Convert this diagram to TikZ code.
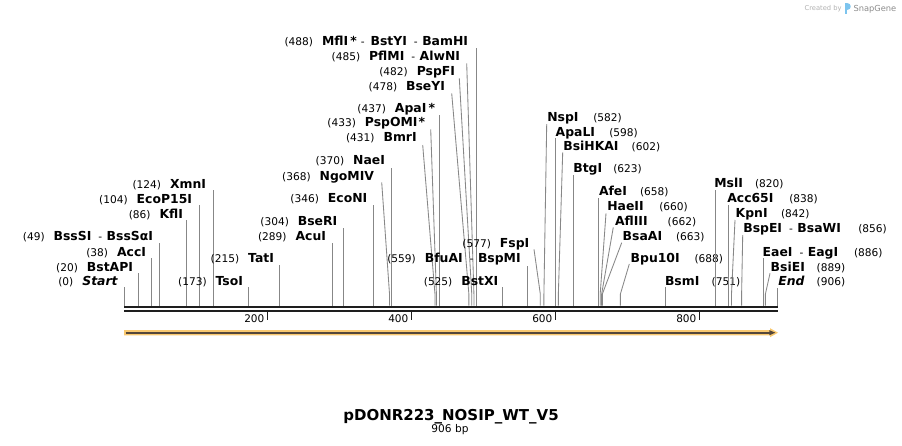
\documentclass[tikz,border=0pt]{standalone}
\usepackage{fontspec}
\setmainfont{DejaVu Sans}
\definecolor{sitegray}{HTML}{878787}
\definecolor{bbblack}{HTML}{1E1E1E}
\definecolor{orangeF}{HTML}{F9C970}
\definecolor{darkA}{HTML}{54473A}
\definecolor{sgblue}{HTML}{7CC4EE}
\newcommand\nmf{\fontsize{10.6}{12}\selectfont\mdseries\upshape}
\newcommand\bff{\fontsize{12.4}{14}\selectfont\bfseries}
\newcommand\dsh{\hspace{7pt}{\nmf -}\hspace{4.5pt}}
\newcommand\sx[1]{{124+0.7215*#1}}
% left label, vertical line: id, text right x, baseline y, name, bp, line start y
\newcommand\LV[6]{%
  \node[lab, anchor=base east] (#1) at (#2,#3) {{\nmf(#5)}\hspace{9pt}{\bff #4}};
  \coordinate (#1-s) at (\sx{#5},#6);
  \coordinate (#1-b) at (\sx{#5},305.6);
  \draw[site] (#1-s) -- (#1-b);}
% left label, slanted line: id, text right x, baseline y, name, bp, start x, start y
\newcommand\LS[7]{%
  \node[lab, anchor=base east] (#1) at (#2,#3) {{\nmf(#5)}\hspace{9pt}{\bff #4}};
  \coordinate (#1-s) at (#6,#7);
  \coordinate (#1-k) at (\sx{#5},294);
  \coordinate (#1-b) at (\sx{#5},305.6);
  \draw[site] (#1-s) -- (#1-k) -- (#1-b);}
% right label, vertical line: id, text left x, baseline y, name, number x, bp, start y
\newcommand\RV[7]{%
  \node[lab, anchor=base west] (#1) at (#2,#3) {\bff #4};
  \node[lab, anchor=base west] (#1-n) at (#5,#3) {\nmf(#6)};
  \coordinate (#1-s) at (\sx{#6},#7);
  \coordinate (#1-b) at (\sx{#6},305.6);
  \draw[site] (#1-s) -- (#1-b);}
% right label, slanted line: id, text left x, baseline y, name, number x, bp, start x, start y
\newcommand\RS[8]{%
  \node[lab, anchor=base west] (#1) at (#2,#3) {\bff #4};
  \node[lab, anchor=base west] (#1-n) at (#5,#3) {\nmf(#6)};
  \coordinate (#1-s) at (#7,#8);
  \coordinate (#1-k) at (\sx{#6},294);
  \coordinate (#1-b) at (\sx{#6},305.6);
  \draw[site] (#1-s) -- (#1-k) -- (#1-b);}
\begin{document}
\begin{tikzpicture}[x=1pt,y=-1pt,
  lab/.style={inner sep=0pt, outer sep=0pt, text=black},
  site/.style={draw=sitegray, line width=0.85pt},
  bbline/.style={draw=bbblack},
  ticklab/.style={inner sep=0pt, font=\fontsize{10.5}{12}\selectfont, anchor=base east}]
\useasboundingbox[fill=white] (0,0) rectangle (902,445);

% ---- left labels
\LV{start}{118}{285.7}{\textit{Start}}{0}{287}
\LV{bstapi}{133}{271}{BstAPI}{20}{273}
\LV{acci}{146}{256}{AccI}{38}{258}
\LV{bsssi}{153}{240.7}{BssSI\dsh BssSαI}{49}{243}
\LV{kfli}{183}{218.3}{KflI}{86}{220}
\LV{ecop}{192}{203.3}{EcoP15I}{104}{205}
\LV{xmni}{206}{188.3}{XmnI}{124}{190}
\LV{tsoi}{243}{285.7}{TsoI}{173}{287}
\LV{tati}{274}{262.5}{TatI}{215}{265}
\LV{acui}{326}{240.7}{AcuI}{289}{243.3}
\LV{bseri}{337.3}{225}{BseRI}{304}{228}
\LV{econi}{367.3}{202.3}{EcoNI}{346}{205}
\LS{ngomiv}{374}{180}{NgoMIV}{368}{381.7}{182.3}
\LV{naei}{385}{164.5}{NaeI}{370}{168}
\LS{bmri}{416.7}{141.7}{BmrI}{431}{422.7}{145}
\LS{pspomi}{425}{126.7}{PspOMI\kern1pt*}{433}{430.7}{129.3}
\LV{apai}{435}{112.7}{ApaI\,*}{437}{115}
\LS{bseyi}{445}{90.7}{BseYI}{478}{451.7}{93.3}
\LS{pspfi}{455}{75.7}{PspFI}{482}{459.3}{78.3}
\LS{pflmi}{460}{60.7}{PflMI\dsh AlwNI}{485}{466.7}{63.3}
\LV{mfli}{468}{45.7}{MflI\,*\hspace{4pt}{\nmf -}\hspace{6pt}BstYI\dsh BamHI}{488}{48}
\LV{bstxi}{498.3}{285}{BstXI}{525}{287.3}
\LV{bfuai}{520.7}{262.3}{BfuAI\dsh BspMI}{559}{266}
\LS{fspi}{529.3}{247.3}{FspI}{577}{534}{249.3}

% ---- right labels
\RS{nspi}{547.3}{121.7}{NspI}{593.3}{582}{546.7}{124}
\RV{apali}{555.7}{136}{ApaLI}{609.3}{598}{138.3}
\RS{bsihkai}{563.3}{150}{BsiHKAI}{631.7}{602}{562.7}{152.3}
\RV{btgi}{573.3}{172.7}{BtgI}{613.3}{623}{175}
\RV{afei}{599}{195.7}{AfeI}{640}{658}{198.3}
\RS{haeii}{607.3}{210.7}{HaeII}{659.3}{660}{606}{213.3}
\RS{afliii}{615}{225}{AflIII}{667.7}{662}{613.3}{227.3}
\RS{bsaai}{622.7}{240}{BsaAI}{676}{663}{621.7}{242.7}
\RS{bpu}{630.7}{262.3}{Bpu10I}{694.5}{688}{629.3}{264}
\RV{bsmi}{665}{285}{BsmI}{711.7}{751}{287.3}
\RV{msli}{714.3}{187.3}{MslI}{755}{820}{190}
\RV{acc}{727.3}{202.3}{Acc65I}{789.3}{838}{205}
\RS{kpni}{735.7}{217.3}{KpnI}{781}{842}{735}{220}
\RS{bspei}{743.3}{232.7}{BspEI\dsh BsaWI}{858.3}{856}{742.7}{235}
\RV{eaei}{762.7}{256}{EaeI\dsh EagI}{854}{886}{258.3}
\RS{bsiei}{770.7}{271}{BsiEI}{816.7}{889}{770}{273.3}
\RV{end}{778.3}{285.7}{\textit{End}}{816.7}{906}{288}

% ---- backbone
\coordinate (bbL1) at (124,307.2);
\coordinate (bbR1) at (778,307.2);
\coordinate (bbL2) at (124,311.3);
\coordinate (bbR2) at (778,311.3);
\draw[bbline, line width=2.5pt] (bbL1) -- (bbR1);
\draw[bbline, line width=2pt] (bbL2) -- (bbR2);

% ---- ticks
\foreach \v in {200,400,600,800}{
  \coordinate (tk\v a) at ({123.5+0.72*\v},312);
  \coordinate (tk\v b) at ({123.5+0.72*\v},319.5);
  \draw[bbline, line width=1.6pt] (tk\v a) -- (tk\v b);
  \node[ticklab] (tl\v) at ({123.5+0.72*\v-3},322.7) {\v};
}

% ---- feature arrow
\fill[orangeF] (124,330) -- (770,330) -- (770,328.2) -- (778,332.7) -- (770,337.2) -- (770,335.4) -- (124,335.4) -- cycle;
\draw[darkA, line width=1.7pt] (125.5,332.7) -- (770,332.7);
\fill[darkA] (769.3,330.1) -- (775.3,332.7) -- (769.3,335.3) -- cycle;

% ---- title
\node[lab, anchor=base, font=\fontsize{15}{17}\selectfont\bfseries] (title) at (451,420) {pDONR223\_NOSIP\_WT\_V5};
\node[lab, anchor=base, font=\fontsize{10.6}{12}\selectfont] (bp) at (450,432) {906 bp};

% ---- watermark
\node[lab, anchor=base east, text=black!30, font=\fontsize{6.7}{8}\selectfont] (cb) at (841.5,10.5) {Created by};
\fill[sgblue] (844.5,3) rectangle (846.8,14);
\fill[sgblue] (846.8,3) .. controls (852,3) and (852,9.5) .. (846.8,9.5) -- cycle;
\node[lab, anchor=base west, text=black!45, font=\fontsize{8.3}{10}\selectfont] (sg) at (853.5,11) {SnapGene};
\end{tikzpicture}
\end{document}
